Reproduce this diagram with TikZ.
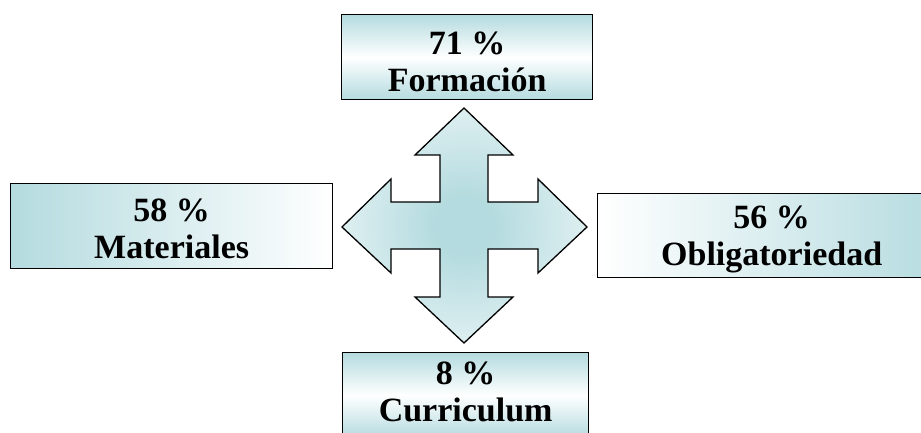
\documentclass[tikz,border=0pt]{standalone}
\usepackage{fontspec}
\setmainfont{Liberation Serif}
\definecolor{paleteal}{HTML}{B4DBDF}
\pgfdeclareradialshading{crossglow}{\pgfpoint{0bp}{0bp}}{color(0bp)=(paleteal); color(6bp)=(paleteal); color(40bp)=(white); color(50bp)=(white)}
\begin{document}
\begin{tikzpicture}[x=1pt, y=-1pt, line join=miter,
    box/.style={draw=black, line width=1.3pt, inner sep=0pt},
    vbox/.style={box, top color=paleteal, bottom color=paleteal, middle color=white},
    lbl/.style={font=\bfseries\fontsize{34}{37}\selectfont, align=center, inner sep=0pt, anchor=south}]
    \useasboundingbox (0,0) rectangle (921,433);
    % four-way arrow in the middle
    \shade[draw=black, line width=1.3pt, shading=crossglow]
        (464,108)--(513,155)--(488,155)--(488,202)--(538,202)--(538,179)--(587,227)--(538,273)--(538,249)--(488,249)
        --(488,297)--(513,297)--(464,343)--(415,297)--(440,297)--(440,249)--(391,249)--(391,273)--(342,227)--(391,179)
        --(391,202)--(440,202)--(440,155)--(415,155)--cycle;
    % boxes
    \node[vbox, minimum width=251, minimum height=85, anchor=north west] (form) at (341,14) {};
    \node[box, left color=paleteal, right color=white, minimum width=322, minimum height=85, anchor=north west] (mat) at (10,183) {};
    \node[box, left color=white, right color=paleteal, minimum width=348, minimum height=84, anchor=north west] (oblig) at (597,193) {};
    \node[vbox, minimum width=246, minimum height=85, anchor=north west] (curr) at (342,352) {};
    % texts
    \node[lbl] (formtxt) at ([yshift=8]form.south) {71 \%\\Formación};
    \node[lbl] (mattxt) at ([yshift=10]mat.south) {58 \%\\Materiales};
    \node[lbl] (obligtxt) at ([yshift=5]oblig.south) {56 \%\\Obligatoriedad};
    \node[lbl] (currtxt) at ([yshift=16]curr.south) {8 \%\\Curriculum};
\end{tikzpicture}
\end{document}
